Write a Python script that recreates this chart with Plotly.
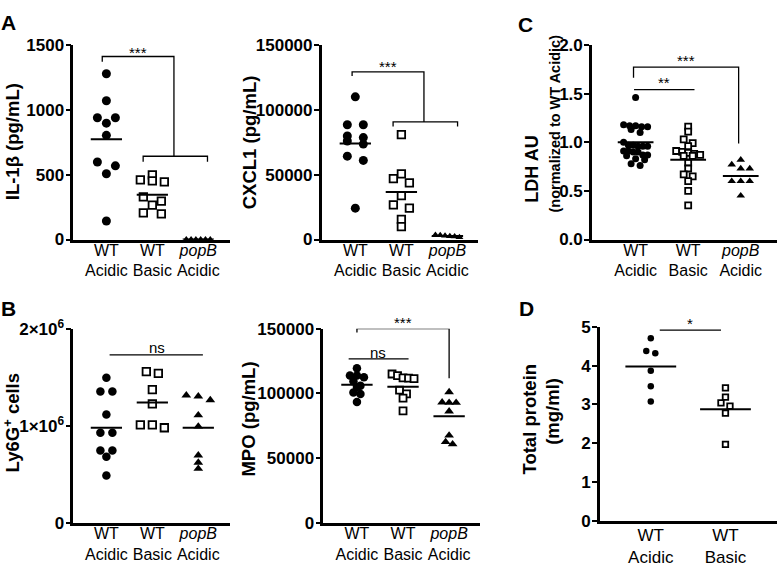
import plotly.graph_objects as go

W, H = 777, 567
FONT = "Liberation Sans"

# ---------------- data ----------------
groups_3 = ["WT<br>Acidic", "WT<br>Basic", "<i>popB</i><br>Acidic"]
groups_2 = ["WT<br>Acidic", "WT<br>Basic"]

il1b_wt_acidic = [1278, 1070, 939, 939, 897, 803, 598, 568, 507, 143]
il1b_wt_basic = [499, 460, 452, 445, 329, 296, 265, 205, 198]
il1b_popb_acidic = [0, 0, 0, 0, 0, 0]
il1b_means = [774, 346, 0]
il1b_ticks = [0, 500, 1000, 1500]

cxcl1_wt_acidic = [110000, 88500, 88500, 79800, 78600, 76000, 73600, 64250, 61000, 24200]
cxcl1_wt_basic = [80800, 50660, 46950, 43740, 33850, 26690, 24220, 15570, 9880]
cxcl1_popb_acidic = [3300, 2300, 2900, 1800, 2600, 3500]
cxcl1_means = [74000, 36600, 2700]
cxcl1_ticks = [0, 50000, 100000, 150000]

ldh_wt_acidic = [1.46, 1.18, 1.17, 1.17, 1.16, 1.16, 1.13, 1.10, 1.00, 0.97, 0.97, 0.96,
                 0.96, 0.96, 0.91, 0.91, 0.90, 0.90, 0.87, 0.87, 0.86, 0.83, 0.82, 0.78, 0.76]
ldh_wt_basic = [1.16, 1.11, 1.03, 0.99, 0.96, 0.91, 0.90, 0.89, 0.88, 0.87, 0.86, 0.86,
                0.79, 0.73, 0.67, 0.65, 0.60, 0.50, 0.35]
ldh_popb_acidic = [0.82, 0.77, 0.73, 0.73, 0.60, 0.60, 0.60, 0.45]
ldh_means = [1.00, 0.82, 0.654]
ldh_ticks = [0, 0.5, 1.0, 1.5, 2.0]
ldh_ticktext = ["0.0", "0.5", "1.0", "1.5", "2.0"]

ly6g_wt_acidic = [1.495e6, 1.353e6, 1.353e6, 1.116e6, 0.929e6, 0.929e6, 0.746e6, 0.746e6, 0.68e6, 0.488e6]
ly6g_wt_basic = [1.559e6, 1.54e6, 1.373e6, 1.225e6, 1.01e6, 0.98e6, 1.01e6]
ly6g_popb_acidic = [1.314e6, 1.304e6, 1.265e6, 1.109e6, 0.993e6, 0.696e6, 0.621e6, 0.558e6]
ly6g_means = [0.98e6, 1.24e6, 0.98e6]
ly6g_ticks = [0, 1e6, 2e6]
ly6g_ticktext = ["0", "1×10<sup>6</sup>", "2×10<sup>6</sup>"]

mpo_wt_acidic = [119400, 113800, 113800, 112500, 109500, 106000, 105000, 100800, 99600, 93300]
mpo_wt_basic = [115000, 113800, 112000, 111800, 111500, 102600, 99600, 96400, 86500]
mpo_popb_acidic = [101080, 93130, 92880, 92880, 86170, 67550, 60840, 62580]
mpo_means = [106800, 105100, 82450]
mpo_ticks = [0, 50000, 100000, 150000]

protein_wt_acidic = [4.71, 4.38, 4.32, 3.87, 3.47, 3.08]
protein_wt_basic = [3.43, 3.19, 3.04, 2.96, 2.78, 1.97]
protein_means = [3.98, 2.88]
protein_ticks = [0, 1, 2, 3, 4, 5]


# ---------------- helpers ----------------
def swarm_offsets(values, px_per_val, px_per_cat, row_px, step_px, span_px):
    order = sorted(range(len(values)), key=lambda i: -values[i])
    rows = []
    for i in order:
        if rows and (values[rows[-1][0]] - values[i]) * px_per_val < row_px:
            rows[-1].append(i)
        else:
            rows.append([i])
    offs = [0.0] * len(values)
    for r in rows:
        n = len(r)
        step = step_px if n < 2 else min(step_px, span_px / (n - 1))
        for k, i in enumerate(r):
            offs[i] = (k - (n - 1) / 2) * step / px_per_cat
    return offs


panels = [
    dict(n=1, groups=groups_3, series=[il1b_wt_acidic, il1b_wt_basic, il1b_popb_acidic],
         means=il1b_means, box=(73.3, 34.3, 230.0, 236.7), xr=(-0.72, 2.69), ymax=1500,
         yticks=il1b_ticks, yticktext=[str(v) for v in il1b_ticks], sizes=(9, 7.5, 7),
         row_px=5, step_px=18, span_px=24, cat_font=16, cat_standoff=-6,
         lines=[[(-0.09, 1370), (-0.09, 1411), (1.47, 1411), (1.47, 642)],
                [(0.8, 600), (0.8, 642), (2.2, 642), (2.2, 600)]],
         texts=[(0.68, 1445, "***")]),
    dict(n=2, groups=groups_3, series=[cxcl1_wt_acidic, cxcl1_wt_basic, cxcl1_popb_acidic],
         means=cxcl1_means, box=(321.7, 34.3, 478.3, 236.7), xr=(-0.73, 2.67), ymax=150000,
         yticks=cxcl1_ticks, yticktext=[str(v) for v in cxcl1_ticks], sizes=(9, 7.5, 7),
         row_px=5, step_px=16, span_px=24, cat_font=16, cat_standoff=-6,
         lines=[[(-0.07, 126000), (-0.07, 129200), (1.49, 129200), (1.49, 90700)],
                [(0.82, 87200), (0.82, 90700), (2.22, 90700), (2.22, 87200)]],
         texts=[(0.7, 133400, "***")]),
    dict(n=3, groups=groups_3, series=[ldh_wt_acidic, ldh_wt_basic, ldh_popb_acidic],
         means=ldh_means, box=(592.0, 34.3, 777.0, 236.7), xr=(-0.83, 2.69), ymax=2.0,
         yticks=ldh_ticks, yticktext=ldh_ticktext, sizes=(7, 6, 7.5),
         row_px=4.5, step_px=9, span_px=24, cat_font=16, cat_standoff=-6,
         lines=[[(-0.04, 1.664), (-0.04, 1.773), (1.96, 1.773), (1.96, 0.988)],
                [(-0.03, 1.54), (1.12, 1.54)]],
         texts=[(0.96, 1.84, "***"), (0.54, 1.61, "**")]),
    dict(n=4, groups=groups_3, series=[ly6g_wt_acidic, ly6g_wt_basic, ly6g_popb_acidic],
         means=ly6g_means, box=(73.3, 329.5, 230.0, 531.5), xr=(-0.72, 2.69), ymax=2e6,
         yticks=ly6g_ticks, yticktext=ly6g_ticktext, sizes=(8.5, 7.5, 8.5),
         row_px=5, step_px=12, span_px=24, cat_font=16, cat_standoff=-6,
         lines=[[(0.07, 1.73e6), (2.1, 1.73e6)]],
         texts=[(1.1, 1.81e6, "ns")]),
    dict(n=5, groups=groups_3, series=[mpo_wt_acidic, mpo_wt_basic, mpo_popb_acidic],
         means=mpo_means, box=(323.3, 329.5, 480.0, 531.5), xr=(-0.73, 2.67), ymax=150000,
         yticks=mpo_ticks, yticktext=[str(v) for v in mpo_ticks], sizes=(8.5, 7, 8.5),
         row_px=5.5, step_px=7, span_px=22, cat_font=16, cat_standoff=-6,
         lines=[[(0, 147000), (0, 150000), (2.0, 150000), (2.0, 111750)],
                [(-0.18, 126700), (1.12, 126700)]],
         texts=[(1.0, 155000, "***"), (0.46, 131300, "ns")]),
    dict(n=6, groups=groups_2, series=[protein_wt_acidic, protein_wt_basic],
         means=protein_means, box=(600.0, 327.7, 777.0, 529.3), xr=(-0.68, 1.69), ymax=5,
         yticks=protein_ticks, yticktext=[str(v) for v in protein_ticks], sizes=(6.5, 5.5, 6),
         row_px=4, step_px=9, span_px=20, cat_font=17, cat_standoff=-3,
         lines=[[(0.12, 4.92), (0.94, 4.92)]],
         texts=[(0.53, 5.09, "*")]),
]

fig = go.Figure()
layout = dict(
    width=W, height=H, margin=dict(l=0, r=0, t=0, b=0),
    paper_bgcolor="white", plot_bgcolor="white", showlegend=False,
    font=dict(family=FONT, color="black"),
)
annotations = []

symbols = ["circle", "square", "triangle-up"]

for p in panels:
    n = p["n"]
    xs = "" if n == 1 else str(n)
    x0, y0, x1, y1 = p["box"]
    px_per_cat = (x1 - x0) / (p["xr"][1] - p["xr"][0])
    px_per_val = (y1 - y0) / p["ymax"]
    layout["xaxis" + xs] = dict(
        domain=[x0 / W, x1 / W], range=list(p["xr"]), anchor="y" + xs,
        showline=True, linewidth=2.6, linecolor="black", ticks="",
        tickmode="array", tickvals=list(range(len(p["groups"]))), ticktext=p["groups"],
        tickfont=dict(family=FONT, size=p["cat_font"], color="black"),
        ticklabelstandoff=p["cat_standoff"],
        showgrid=False, zeroline=False, fixedrange=True,
    )
    layout["yaxis" + xs] = dict(
        domain=[1 - y1 / H, 1 - y0 / H], range=[0, p["ymax"]], anchor="x" + xs,
        showline=True, linewidth=2.6, linecolor="black", ticks="outside",
        ticklen=5, tickwidth=2.4, tickcolor="black", ticklabelstandoff=-2,
        tickmode="array", tickvals=p["yticks"], ticktext=p["yticktext"],
        tickfont=dict(family=FONT, size=17, color="black", weight="bold"),
        showgrid=False, zeroline=False, fixedrange=True,
    )
    for g, vals in enumerate(p["series"]):
        offs = swarm_offsets(vals, px_per_val, px_per_cat, p["row_px"], p["step_px"], p["span_px"])
        xv = [g + o for o in offs]
        if g == 1:
            marker = dict(symbol="square", size=p["sizes"][1], color="white",
                          line=dict(color="black", width=1.8))
        else:
            marker = dict(symbol=symbols[g], size=p["sizes"][g], color="black",
                          line=dict(width=0))
        fig.add_trace(go.Scatter(x=xv, y=vals, mode="markers", marker=marker,
                                 xaxis="x" + xs, yaxis="y" + xs, cliponaxis=False,
                                 hoverinfo="skip"))
        m = p["means"][g]
        fig.add_trace(go.Scatter(x=[g - 0.34, g + 0.34], y=[m, m], mode="lines",
                                 line=dict(color="black", width=2),
                                 xaxis="x" + xs, yaxis="y" + xs, cliponaxis=False,
                                 hoverinfo="skip"))
    for ln in p["lines"]:
        fig.add_trace(go.Scatter(x=[pt[0] for pt in ln], y=[pt[1] for pt in ln], mode="lines",
                                 line=dict(color="black", width=1.3),
                                 xaxis="x" + xs, yaxis="y" + xs, cliponaxis=False,
                                 hoverinfo="skip"))
    for tx, ty, tt in p["texts"]:
        py = y1 - ty * px_per_val  # pixel row of the value on this panel's scale
        annotations.append(dict(x=tx, y=1 - py / H, xref="x" + xs, yref="paper", text=tt,
                                showarrow=False, xanchor="center", yanchor="middle",
                                font=dict(family=FONT, size=15, color="black")))


def paper_text(px, py, text, size, bold=True, angle=0):
    return dict(x=px / W, y=1 - py / H, xref="paper", yref="paper", text=text,
                showarrow=False, xanchor="center", yanchor="middle", textangle=angle,
                font=dict(family=FONT, size=size, color="black",
                          weight="bold" if bold else "normal"))


annotations += [
    paper_text(12, 135.5, "IL-1β (pg/mL)", 18.5, angle=-90),
    paper_text(249, 135.5, "CXCL1 (pg/mL)", 18.5, angle=-90),
    paper_text(532, 164, "LDH AU", 18, angle=-90),
    paper_text(555, 116, "(normalized to WT Acidic)", 14.5, angle=-90),
    paper_text(12, 428, "Ly6G<sup>+</sup> cells", 18.5, angle=-90),
    paper_text(249, 424, "MPO (pg/mL)", 18.5, angle=-90),
    paper_text(530, 424, "Total protein", 18.5, angle=-90),
    paper_text(553, 416, "(mg/ml)", 18.5, angle=-90),
    paper_text(8, 11, "A", 21),
    paper_text(8, 308, "B", 21),
    paper_text(525, 13, "C", 21),
    paper_text(526, 308, "D", 21),
]
layout["annotations"] = annotations
fig.update_layout(**layout)

fig.write_html("out.html", config={"displayModeBar": False},
               post_script="document.body.style.margin='0';document.body.style.overflow='hidden';")
